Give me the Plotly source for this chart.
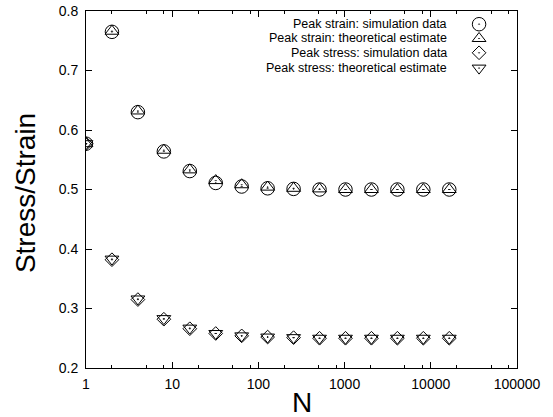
import plotly.graph_objects as go

N = [1, 2, 4, 8, 16, 32, 64, 128, 256, 512, 1024, 2048, 4096, 8192, 16384]
strain_sim = [0.577, 0.765, 0.630, 0.564, 0.531, 0.511, 0.505, 0.502, 0.501, 0.500, 0.500, 0.500, 0.500, 0.500, 0.500]
strain_th = [0.577, 0.766, 0.632, 0.566, 0.533, 0.515, 0.508, 0.504, 0.502, 0.501, 0.500, 0.500, 0.500, 0.500, 0.500]
stress_sim = [0.577, 0.382, 0.315, 0.282, 0.266, 0.258, 0.254, 0.252, 0.251, 0.250, 0.250, 0.250, 0.250, 0.250, 0.250]
stress_th = [0.577, 0.383, 0.316, 0.283, 0.267, 0.258, 0.254, 0.252, 0.251, 0.250, 0.250, 0.250, 0.250, 0.250, 0.250]

series_names = [
    "Peak strain: simulation data",
    "Peak strain: theoretical estimate",
    "Peak stress: simulation data",
    "Peak stress: theoretical estimate",
]
series_values = [strain_sim, strain_th, stress_sim, stress_th]
symbols = ["circle-open-dot", "triangle-up-open-dot", "diamond-open-dot", "triangle-down-open-dot"]
sizes = [13.5, 12, 10.5, 12]

x_tickvals = [1, 10, 100, 1000, 10000, 100000]
x_ticktext = ["1", "10", "100", "1000", "10000", "100000"]
x_minor = [m * 10 ** d for d in range(5) for m in (2, 5, 8)]
y_tickvals = [0.2, 0.3, 0.4, 0.5, 0.6, 0.7, 0.8]
y_ticktext = ["0.2", "0.3", "0.4", "0.5", "0.6", "0.7", "0.8"]

X_RANGE = [0, 5]      # log10 range
Y_RANGE = [0.2, 0.8]

FONT = "Liberation Sans, Arial, Helvetica, sans-serif"

fig = go.Figure()
for name, vals, sym, sz in zip(series_names, series_values, symbols, sizes):
    fig.add_trace(go.Scatter(
        x=N, y=vals, mode="markers", name=name, showlegend=False,
        marker=dict(symbol=sym, size=sz, color="black", line=dict(width=1, color="black")),
    ))

# gnuplot-style key (inside top-right): right-aligned text, symbol on the right.
key_rows = [0.963, 0.923, 0.883, 0.840]   # fractions of the plot height
key_text_x = 0.842                         # fraction of plot width (text right edge)
key_sym_x = 0.912                          # fraction of plot width (symbol centre)
for name, sym, sz, ky in zip(series_names, symbols, sizes, key_rows):
    fig.add_trace(go.Scatter(
        x=[10 ** (X_RANGE[0] + key_sym_x * (X_RANGE[1] - X_RANGE[0]))],
        y=[Y_RANGE[0] + ky * (Y_RANGE[1] - Y_RANGE[0])],
        mode="markers", showlegend=False, hoverinfo="skip",
        marker=dict(symbol=sym, size=sz, color="black", line=dict(width=1, color="black")),
    ))
    fig.add_annotation(
        x=key_text_x, y=ky, xref="paper", yref="paper", text=name, showarrow=False,
        xanchor="right", yanchor="middle", font=dict(family=FONT, size=12.5, color="black"),
    )

# axis titles as annotations for precise gnuplot-like placement
fig.add_annotation(
    x=-0.1415, y=0.49, xref="paper", yref="paper", text="Stress/Strain", textangle=-90,
    showarrow=False, xanchor="center", yanchor="middle",
    font=dict(family=FONT, size=28, color="black"),
)
fig.add_annotation(
    x=0.501, y=-0.098, xref="paper", yref="paper", text="N",
    showarrow=False, xanchor="center", yanchor="middle",
    font=dict(family=FONT, size=28, color="black"),
)

axis_common = dict(
    showline=True, linecolor="black", linewidth=1, mirror="allticks",
    ticks="inside", ticklen=6, tickwidth=1, tickcolor="black",
    showgrid=False, zeroline=False,
    tickfont=dict(family=FONT, size=14, color="black"),
    automargin=False,
)

fig.update_layout(
    width=553, height=417,
    margin=dict(l=86, r=36, t=11, b=49),
    paper_bgcolor="white", plot_bgcolor="white",
    showlegend=False,
    xaxis=dict(
        type="log", range=X_RANGE, tickvals=x_tickvals, ticktext=x_ticktext,
        minor=dict(tickvals=x_minor, ticks="inside", ticklen=3, tickcolor="black", tickwidth=1),
        ticklabelstandoff=3,
        **axis_common,
    ),
    yaxis=dict(
        range=Y_RANGE, tickvals=y_tickvals, ticktext=y_ticktext,
        ticklabelstandoff=4,
        **axis_common,
    ),
)

fig.write_html(
    "out.html",
    config={"displayModeBar": False},
    post_script="document.body.style.margin='0';document.body.style.padding='0';",
)
